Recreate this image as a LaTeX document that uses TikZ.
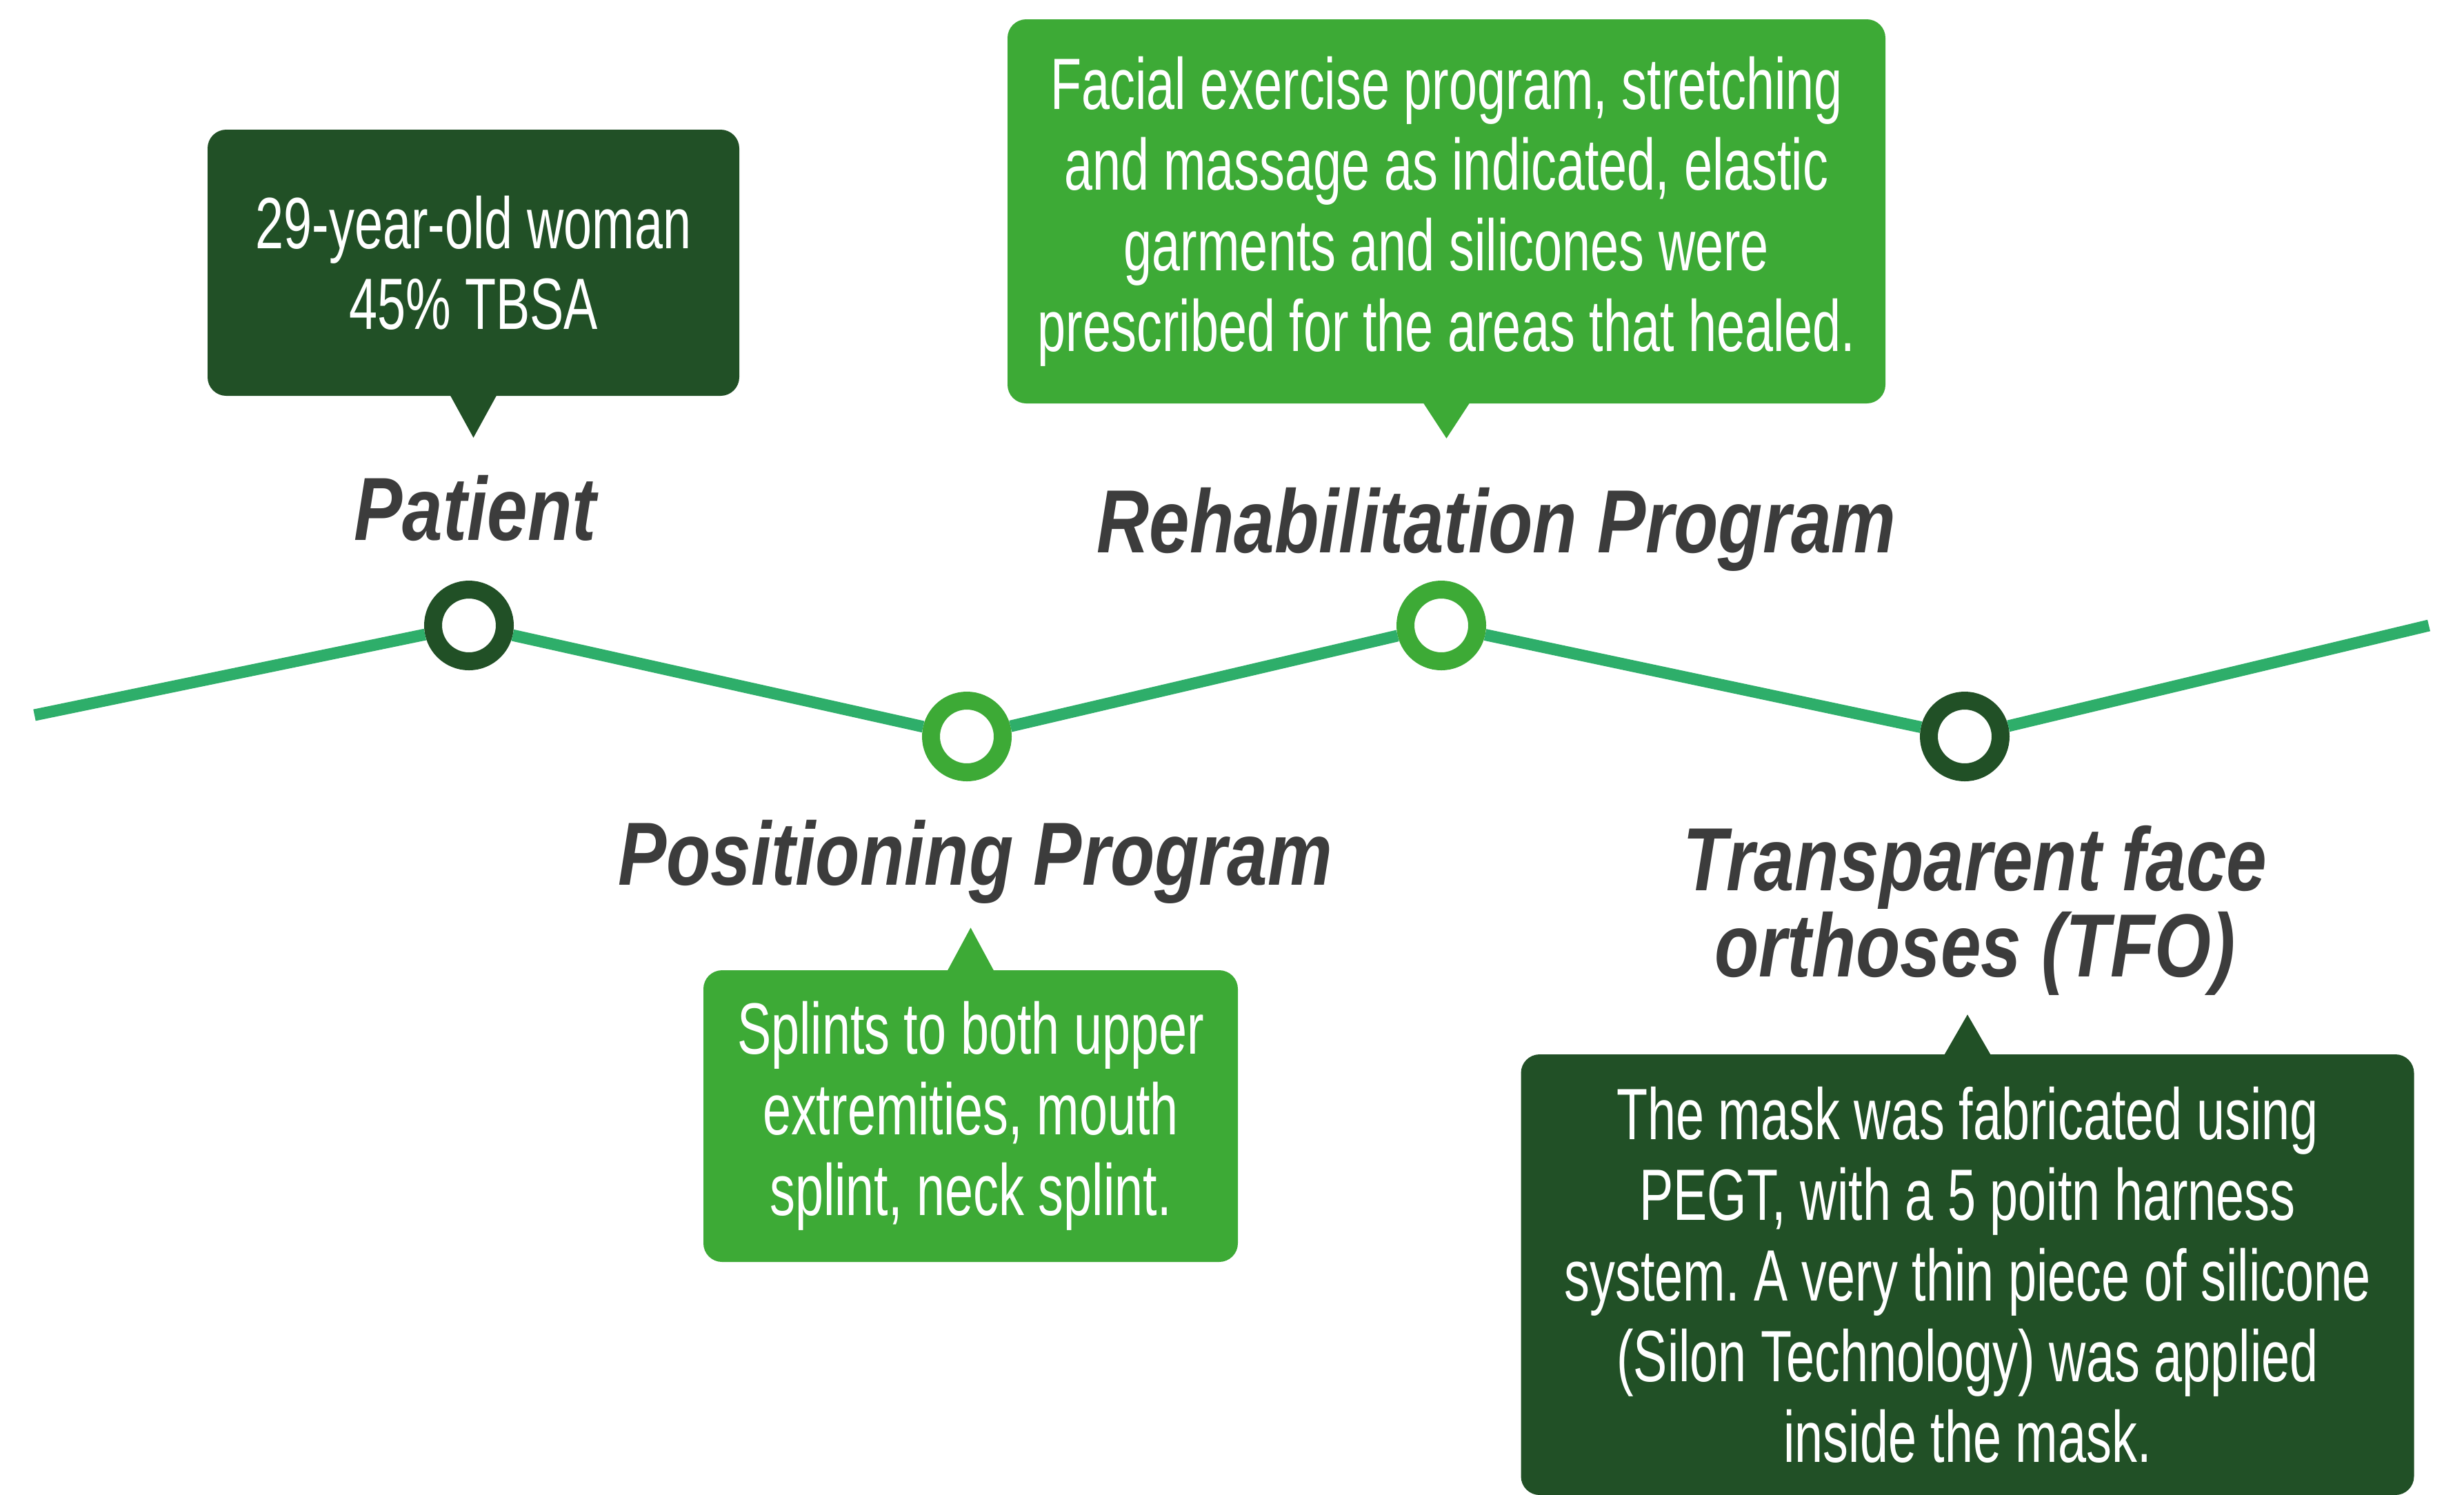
\documentclass[tikz,border=0pt]{standalone}
\usepackage{fontspec}
\setmainfont{Liberation Sans}
\newfontfamily\bodyfont[FakeStretch=0.70]{Liberation Sans}
\newfontfamily\headfont[FakeStretch=0.81]{Liberation Sans}
\frenchspacing
\definecolor{trackgreen}{RGB}{46,174,106}
\definecolor{darkgreen}{RGB}{33,80,38}
\definecolor{lightgreen}{RGB}{61,170,54}
\definecolor{headgray}{RGB}{60,60,60}
\tikzset{
  ringdot/.style={circle, draw=#1, fill=white, line width=0.26cm, minimum size=1.04cm, inner sep=0pt},
  infobox/.style={fill=#1, rounded corners=0.27cm, text=white, align=center, inner sep=0pt,
    font=\bodyfont\fontsize{30}{33.3}\selectfont},
  heading/.style={text=headgray, align=center, anchor=base, inner sep=0pt,
    font=\headfont\bfseries\itshape\fontsize{37}{32.7}\selectfont}
}
\begin{document}
\begin{tikzpicture}
\useasboundingbox (0,0) rectangle (35.73,-21.67);

% timeline
\coordinate (start) at (0.50,-10.37);
\coordinate (end) at (35.22,-9.07);
\node[ringdot=darkgreen] (patient) at (6.80,-9.07) {};
\node[ringdot=lightgreen] (positioning) at (14.02,-10.68) {};
\node[ringdot=lightgreen] (rehab) at (20.90,-9.07) {};
\node[ringdot=darkgreen] (tfo) at (28.49,-10.68) {};
\draw[trackgreen, line width=0.17cm] (start) -- (patient) -- (positioning) -- (rehab) -- (tfo) -- (end);

% labels
\node[heading] (patientlabel) at (6.89,-7.83) {Patient};
\node[heading] (positioninglabel) at (14.14,-12.83) {Positioning Program};
\node[heading] (rehablabel) at (21.70,-8.01) {Rehabilitation Program};
\node[heading] (tfolabel) at (28.64,-14.16) {Transparent face\\orthoses (TFO)};

% boxes
\node[infobox=darkgreen, minimum width=7.71cm, minimum height=3.86cm] (patientbox) at (6.865,-3.81)
  {29-year-old woman\\45\% TBSA};
\fill[darkgreen] ([xshift=-0.34cm,yshift=0.02cm]patientbox.south) -- ([xshift=0.34cm,yshift=0.02cm]patientbox.south)
  -- ([yshift=-0.60cm]patientbox.south) -- cycle;

\node[infobox=lightgreen, minimum width=12.73cm, minimum height=5.57cm] (rehabbox) at (20.975,-3.065)
  {Facial exercise program, stretching\\and massage as indicated, elastic\\garments and silicones were\\prescribed for the areas that healed.};
\fill[lightgreen] ([xshift=-0.34cm,yshift=0.02cm]rehabbox.south) -- ([xshift=0.34cm,yshift=0.02cm]rehabbox.south)
  -- ([yshift=-0.50cm]rehabbox.south) -- cycle;

\node[infobox=lightgreen, minimum width=7.75cm, minimum height=4.23cm] (positioningbox) at (14.075,-16.185)
  {Splints to both upper\\extremities, mouth\\splint, neck splint.};
\fill[lightgreen] ([xshift=-0.34cm,yshift=-0.02cm]positioningbox.north) -- ([xshift=0.34cm,yshift=-0.02cm]positioningbox.north)
  -- ([yshift=0.61cm]positioningbox.north) -- cycle;

\node[infobox=darkgreen, minimum width=12.95cm, minimum height=6.39cm] (tfobox) at (28.53,-18.485)
  {The mask was fabricated using\\PEGT, with a 5 poitn harness\\system. A very thin piece of silicone\\(Silon Technology) was applied\\inside the mask.};
\fill[darkgreen] ([xshift=-0.34cm,yshift=-0.02cm]tfobox.north) -- ([xshift=0.34cm,yshift=-0.02cm]tfobox.north)
  -- ([yshift=0.57cm]tfobox.north) -- cycle;
\end{tikzpicture}
\end{document}
